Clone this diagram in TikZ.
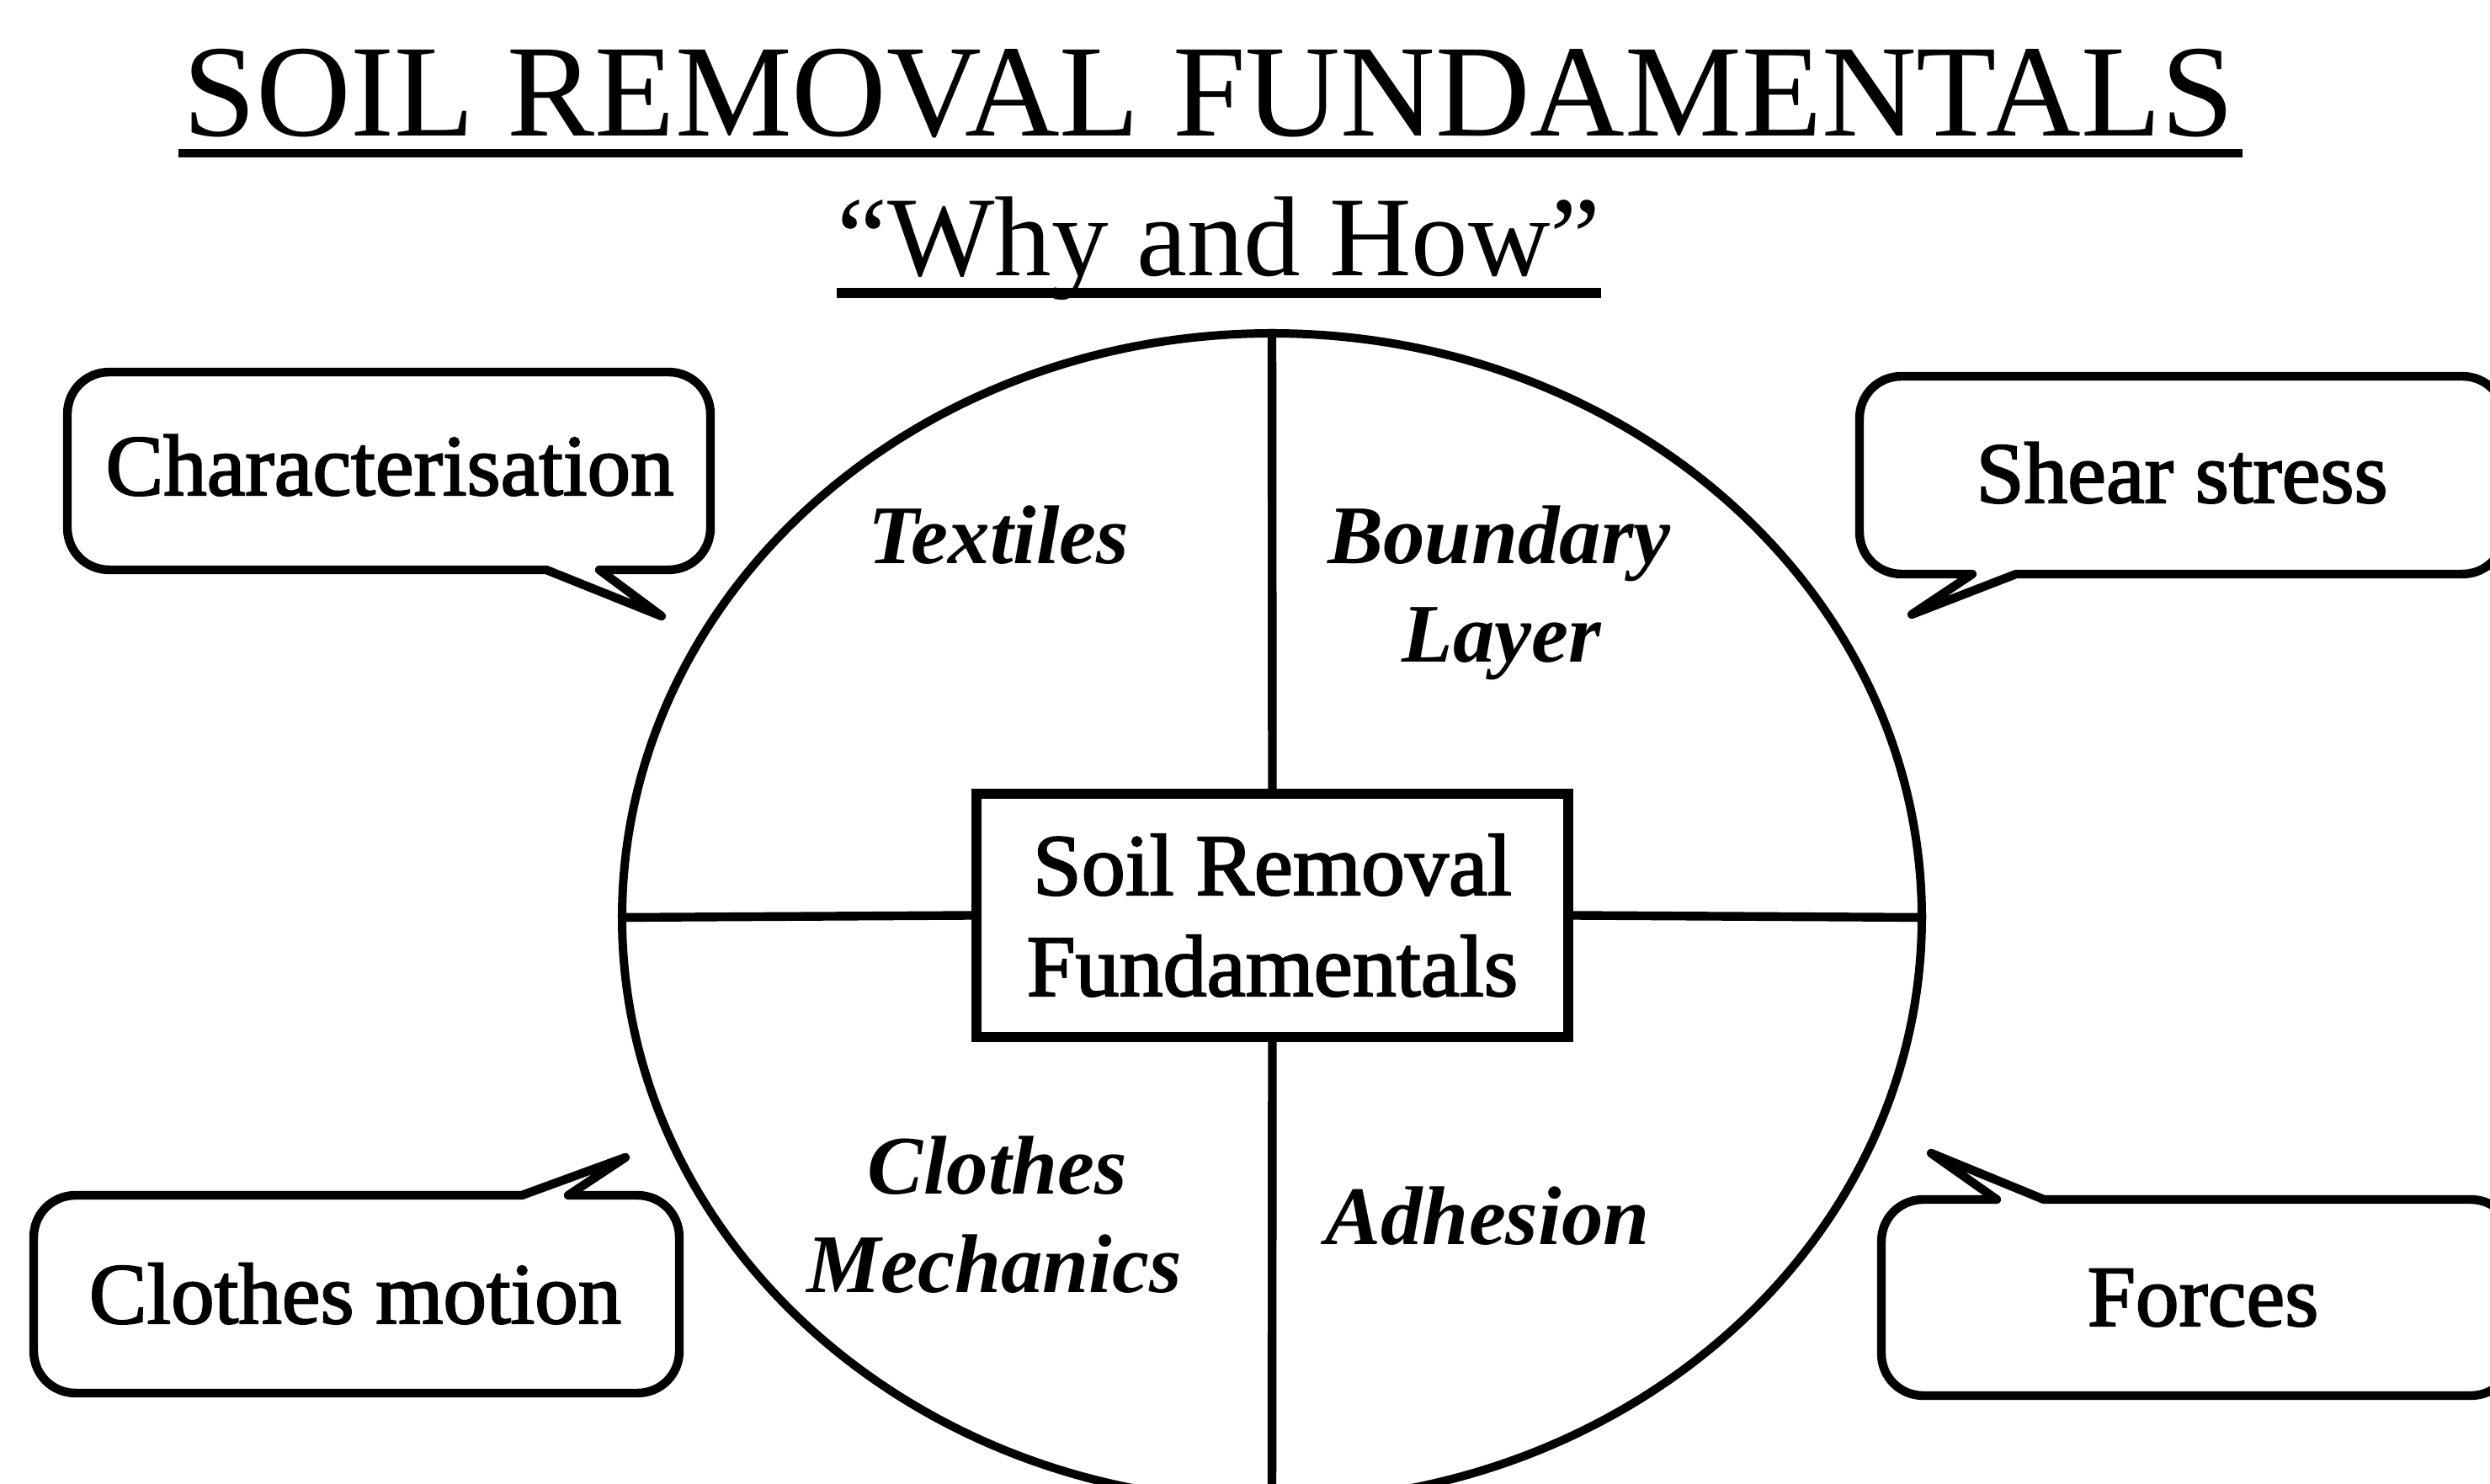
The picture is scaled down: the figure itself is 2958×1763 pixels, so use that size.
\documentclass[tikz,border=0pt]{standalone}
\usepackage{fontspec}
\setmainfont{Liberation Serif}
\newfontfamily\inkfont[FakeBold=2]{Liberation Serif}
\usetikzlibrary{shapes.geometric}
\tikzset{
  plain/.style={inner sep=0pt, anchor=base},
  heading/.style={plain, font=\fontsize{39}{45}\selectfont},
  subheading/.style={plain, font=\fontsize{33.75}{40}\selectfont},
  bubbletext/.style={plain, font=\inkfont\fontsize{25.75}{30}\selectfont},
  sector/.style={plain, font=\bfseries\itshape\fontsize{24.75}{29}\selectfont},
  bubble/.style={line width=2.6pt, line join=round},
  rulestroke/.style={line width=2.6pt},
}
\begin{document}
\begin{tikzpicture}[x=0.25pt, y=-0.25pt]
\useasboundingbox (0,0) rectangle (2958,1763);
\clip (0,0) rectangle (2958,1763);

% headings with underlines
\node[heading] (title) at (1436,162) {SOIL REMOVAL FUNDAMENTALS};
\node[subheading] (sub) at (1448,328) {“Why and How”};
\draw[rulestroke] ([xshift=-1pt,yshift=-5pt]title.base west) -- ([xshift=2pt,yshift=-5pt]title.base east);
\draw[line width=2.9pt] ([yshift=-5pt]sub.base west) -- ([yshift=-5pt]sub.base east);

% the divided wheel
\node[draw, ellipse, line width=2.5pt, minimum width=386pt, minimum height=347pt, inner sep=0pt] (wheel) at (1511,1090) {};
\node[draw, line width=3pt, minimum width=175.75pt, minimum height=72.25pt, inner sep=0pt,
      align=center, font=\inkfont\fontsize{26}{30}\selectfont] (core) at (1511.5,1087.5) {Soil Removal\\Fundamentals};
\draw[rulestroke] (wheel.west) -- (core.west);
\draw[rulestroke] (core.east) -- (wheel.east);
\draw[rulestroke] (wheel.north) -- (core.north);
\draw[rulestroke] (core.south) -- (wheel.south);

% quadrant labels
\node[sector] (textiles) at (1186,670) {Textiles};
\node[sector] (boundary) at (1781,670) {Boundary};
\node[sector] (layer) at (1784,787) {Layer};
\node[sector] (clothes) at (1185,1418) {Clothes};
\node[sector] (mechanics) at (1181,1535) {Mechanics};
\node[sector] (adhesion) at (1767,1478) {Adhesion};

% speech bubbles
\node[bubbletext] (charac) at (463,588) {Characterisation};
\draw[bubble] (130,442) -- (794,442) .. controls (822,442) and (844,464) .. (844,492)
  -- (844,627) .. controls (844,655) and (822,677) .. (794,677)
  -- (712,677) -- (786,732) -- (649,677)
  -- (130,677) .. controls (102,677) and (80,655) .. (80,627)
  -- (80,492) .. controls (80,464) and (102,442) .. (130,442) -- cycle;

\node[bubbletext] (shear) at (2592,597) {Shear stress};
\draw[bubble] (2259,447) -- (2925,447) .. controls (2953,447) and (2975,469) .. (2975,497)
  -- (2975,632) .. controls (2975,660) and (2953,682) .. (2925,682)
  -- (2395,682) -- (2271,730) -- (2343,682)
  -- (2259,682) .. controls (2231,682) and (2209,660) .. (2209,632)
  -- (2209,497) .. controls (2209,469) and (2231,447) .. (2259,447) -- cycle;

\node[bubbletext] (motion) at (422,1572) {Clothes motion};
\draw[bubble] (90,1420) -- (620,1420) -- (743,1375) -- (675,1420)
  -- (757,1420) .. controls (785,1420) and (807,1442) .. (807,1470)
  -- (807,1605) .. controls (807,1633) and (785,1655) .. (757,1655)
  -- (90,1655) .. controls (62,1655) and (40,1633) .. (40,1605)
  -- (40,1470) .. controls (40,1442) and (62,1420) .. (90,1420) -- cycle;

\node[bubbletext] (forces) at (2617,1575) {Forces};
\draw[bubble] (2285,1425) -- (2372,1425) -- (2294,1370) -- (2428,1425)
  -- (2935,1425) .. controls (2963,1425) and (2985,1447) .. (2985,1475)
  -- (2985,1608) .. controls (2985,1636) and (2963,1658) .. (2935,1658)
  -- (2285,1658) .. controls (2257,1658) and (2235,1636) .. (2235,1608)
  -- (2235,1475) .. controls (2235,1447) and (2257,1425) .. (2285,1425) -- cycle;
\end{tikzpicture}
\end{document}
